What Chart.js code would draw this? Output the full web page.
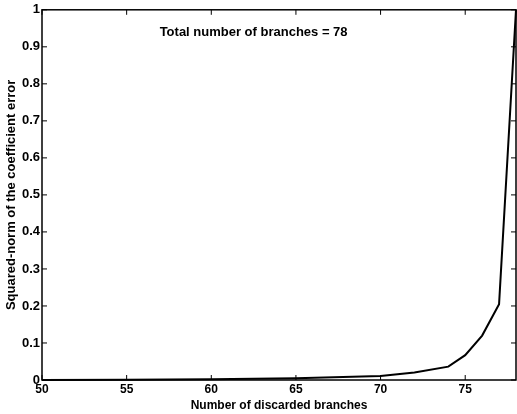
<!DOCTYPE html>
<html lang="en">
<head>
    <meta charset="UTF-8">
    <title>Squared-norm of the coefficient error</title>
    <script src="https://cdn.jsdelivr.net/npm/chart.js"></script>
    <style>
        html, body { margin: 0; padding: 0; background: #fff; }
        #wrap { width: 517px; height: 414px; }
    </style>
</head>
<body>
    <div id="wrap"><canvas id="err-chart"></canvas></div>

    <script>
        // values
        const discarded = [50, 55, 60, 65, 70, 72, 74, 75, 76, 77, 78];
        const errNorm = [0, 0.001, 0.002, 0.005, 0.011, 0.02, 0.036, 0.067, 0.12, 0.205, 1.0];
        const xTicks = [50, 55, 60, 65, 70, 75];
        const yTicks = [0, 0.1, 0.2, 0.3, 0.4, 0.5, 0.6, 0.7, 0.8, 0.9, 1];
        const noteText = 'Total number of branches = 78';

        const font = 'Liberation Sans, Arial, sans-serif';

        // MATLAB-like box with inward ticks on all four sides
        const boxPlugin = {
            id: 'box',
            afterDraw(chart) {
                const { ctx, chartArea: a, scales } = chart;
                ctx.save();
                ctx.strokeStyle = '#000';
                ctx.lineWidth = 1.5;
                ctx.strokeRect(a.left, a.top, a.right - a.left, a.bottom - a.top);
                ctx.lineWidth = 1;
                const len = 5;
                xTicks.forEach(v => {
                    const px = scales.x.getPixelForValue(v);
                    ctx.beginPath();
                    ctx.moveTo(px, a.bottom); ctx.lineTo(px, a.bottom - len);
                    ctx.moveTo(px, a.top); ctx.lineTo(px, a.top + len);
                    ctx.stroke();
                });
                yTicks.forEach(v => {
                    const py = scales.y.getPixelForValue(v);
                    ctx.beginPath();
                    ctx.moveTo(a.left, py); ctx.lineTo(a.left + len, py);
                    ctx.moveTo(a.right, py); ctx.lineTo(a.right - len, py);
                    ctx.stroke();
                });
                // annotation
                ctx.fillStyle = '#000';
                ctx.font = 'bold 13px ' + font;
                ctx.textAlign = 'center';
                ctx.textBaseline = 'middle';
                ctx.fillText(noteText, scales.x.getPixelForValue(62.5), scales.y.getPixelForValue(0.94));
                ctx.restore();
            }
        };

        const ctx = document.getElementById('err-chart').getContext('2d');
        const chart = new Chart(ctx, {
            type: 'scatter',
            data: {
                datasets: [{
                    data: discarded.map((x, i) => ({ x: x, y: errNorm[i] })),
                    showLine: true,
                    borderColor: '#000',
                    borderWidth: 2,
                    pointRadius: 0,
                    tension: 0,
                    clip: false
                }]
            },
            options: {
                responsive: true,
                maintainAspectRatio: false,
                animation: false,
                layout: { padding: { left: 0, right: 1, top: 8, bottom: 0 } },
                plugins: {
                    legend: { display: false },
                    tooltip: { enabled: false }
                },
                scales: {
                    x: {
                        type: 'linear',
                        min: 50,
                        max: 78,
                        afterBuildTicks: s => { s.ticks = xTicks.map(v => ({ value: v })); },
                        afterFit: s => { s.height = 34; },
                        grid: { display: false, drawTicks: false },
                        border: { display: false },
                        ticks: {
                            color: '#000',
                            padding: 2,
                            font: { family: font, size: 12, weight: 'bold' },
                            maxRotation: 0
                        },
                        title: {
                            display: true,
                            text: 'Number of discarded branches',
                            color: '#000',
                            padding: { top: 0, bottom: 1 },
                            font: { family: font, size: 12, weight: 'bold' }
                        }
                    },
                    y: {
                        min: 0,
                        max: 1,
                        afterBuildTicks: s => { s.ticks = yTicks.map(v => ({ value: v })); },
                        afterFit: s => { s.width = 42; },
                        grid: { display: false, drawTicks: false },
                        border: { display: false },
                        ticks: {
                            color: '#000',
                            padding: 2,
                            font: { family: font, size: 13, weight: 'bold' },
                            callback: v => String(v)
                        },
                        title: {
                            display: true,
                            text: 'Squared-norm of the coefficient error',
                            color: '#000',
                            padding: { top: 4, bottom: 0 },
                            font: { family: font, size: 13, weight: 'bold' }
                        }
                    }
                }
            },
            plugins: [boxPlugin]
        });
    </script>
</body>
</html>
